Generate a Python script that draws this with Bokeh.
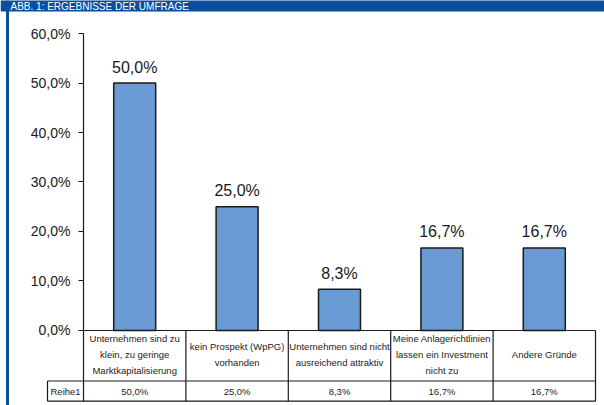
from bokeh.plotting import figure
from bokeh.models import Range1d, LinearAxis, FixedTicker, ColumnDataSource
from bokeh.core.properties import value
from bokeh.embed import file_html
from bokeh.resources import INLINE

# ---- data ----
title_text = "ABB. 1: ERGEBNISSE DER UMFRAGE"
categories = [
    "Unternehmen sind zu\nklein, zu geringe\nMarktkapitalisierung",
    "kein Prospekt (WpPG)\nvorhanden",
    "Unternehmen sind nicht\nausreichend attraktiv",
    "Meine Anlagerichtlinien\nlassen ein Investment\nnicht zu",
    "Andere Gründe",
]
series_name = "Reihe1"
values = [50.0, 25.0, 8.333, 16.667, 16.667]
value_labels = ["50,0%", "25,0%", "8,3%", "16,7%", "16,7%"]
y_ticks = [0, 10, 20, 30, 40, 50, 60]
y_tick_labels = ["0,0%", "10,0%", "20,0%", "30,0%", "40,0%", "50,0%", "60,0%"]

# ---- layout constants ----
W, H = 604, 405
X0, X1 = -0.8105, 5.0879
Y0, Y1 = -15.152, 66.667
PX = (X1 - X0) / W      # data units per pixel (x)
PY = (Y1 - Y0) / H      # data units per pixel (y)
HEAD_BOTTOM = -10.20
TABLE_BOTTOM = -14.28
NAME_LEFT = -0.3516
BLUE = "#0A4F9E"
LINE = "#1a1a1a"
FONT = "Liberation Sans"

n = len(categories)
xc = [i + 0.5 for i in range(n)]

p = figure(width=W, height=H, x_range=Range1d(X0, X1), y_range=Range1d(Y0, Y1),
           output_backend="svg", toolbar_location=None,
           x_axis_location=None, y_axis_location=None,
           min_border=0, outline_line_color=None,
           background_fill_color="white", border_fill_color="white")
p.grid.grid_line_color = None

# banner and left border
p.quad(left=[X0], right=[X1], top=[Y1 + 5], bottom=[Y1 - 11 * PY],
       fill_color=BLUE, line_color=None)
p.text(x=[X0 + 10 * PX], y=[Y1 - 5.5 * PY], text=[title_text],
       text_font=value(FONT), text_font_size="10px", text_color="white",
       text_baseline="middle", text_align="left")
p.quad(left=[X0 + 5.5 * PX], right=[X0 + 8.5 * PX], top=[Y1], bottom=[Y0],
       fill_color=BLUE, line_color=None)

# bars
src = ColumnDataSource(dict(x=xc, top=values, label=value_labels, cat=categories,
                            zero=[0] * n))
p.vbar(x="x", top="top", bottom="zero", width=0.41, source=src,
       fill_color="#6A9AD4", line_color=LINE, line_width=1.5)
p.text(x="x", y="top", text="label", source=src, y_offset=-16,
       text_font=value(FONT), text_font_size="16px", text_color="#1a1a1a",
       text_align="center", text_baseline="alphabetic")

# y axis (fixed at x=0)
yaxis = LinearAxis(fixed_location=0, ticker=FixedTicker(ticks=y_ticks), bounds=(0, 60),
                   major_label_overrides=dict(zip(y_ticks, y_tick_labels)),
                   major_tick_out=5, major_tick_in=0, minor_tick_line_color=None,
                   major_label_standoff=8, axis_line_color=LINE, axis_line_width=1.2,
                   major_tick_line_color=LINE,
                   major_label_text_font=FONT, major_label_text_font_size="14px",
                   major_label_text_color="#1a1a1a")
p.add_layout(yaxis, "left")

# data table below the chart
p.segment(x0=[0, NAME_LEFT, NAME_LEFT], x1=[n, n, n],
          y0=[0, HEAD_BOTTOM, TABLE_BOTTOM], y1=[0, HEAD_BOTTOM, TABLE_BOTTOM],
          line_color=LINE, line_width=1.2)
p.segment(x0=list(range(n + 1)) + [NAME_LEFT], x1=list(range(n + 1)) + [NAME_LEFT],
          y0=[0] * (n + 1) + [HEAD_BOTTOM], y1=[TABLE_BOTTOM] * (n + 2),
          line_color=LINE, line_width=1.2)

p.text(x="x", y=HEAD_BOTTOM / 2 + 1.5 * PY, text="cat", source=src,
       text_font=value(FONT), text_font_size="9.5px", text_color="#222222",
       text_align="center", text_baseline="middle", text_line_height=1.45)
p.text(x="x", y=(HEAD_BOTTOM + TABLE_BOTTOM) / 2, text="label", source=src,
       text_font=value(FONT), text_font_size="9.5px", text_color="#222222",
       text_align="center", text_baseline="middle")
p.text(x=[NAME_LEFT], y=[(HEAD_BOTTOM + TABLE_BOTTOM) / 2], text=[series_name],
       x_offset=3, text_font=value(FONT), text_font_size="9.5px", text_color="#222222",
       text_align="left", text_baseline="middle")

open("out.html", "w").write(file_html(p, INLINE))
